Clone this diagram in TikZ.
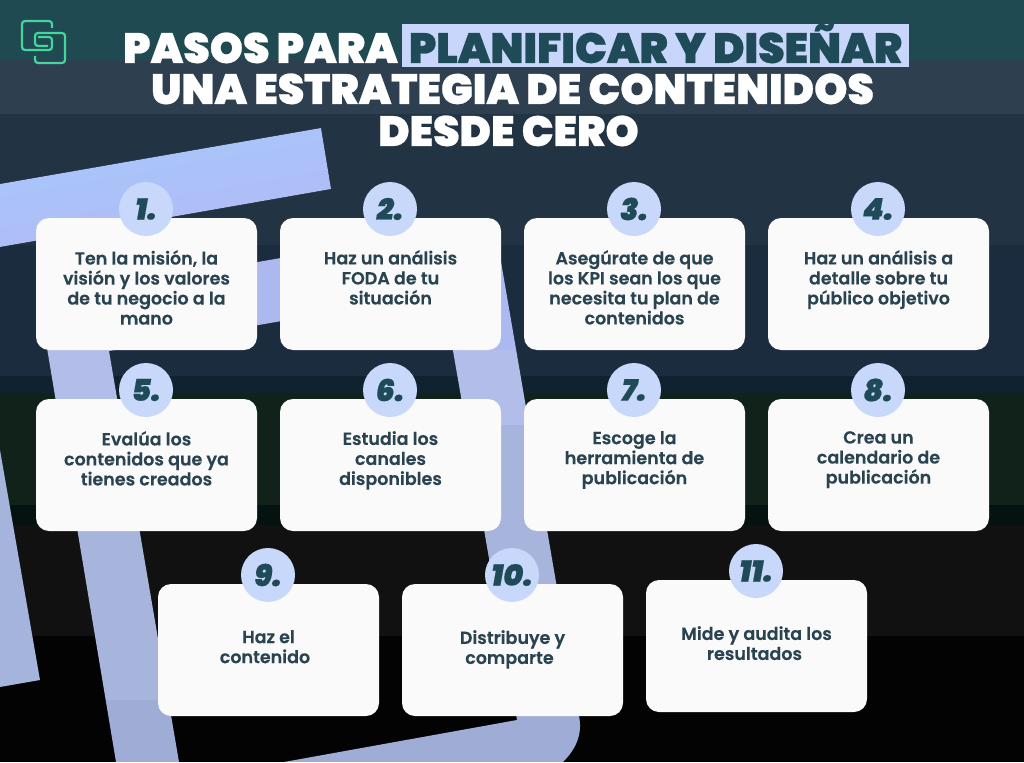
\documentclass[tikz,border=0pt]{standalone}
\usepackage{fontspec}
\setmainfont{Poppins}
\newfontfamily\titlefont[FakeBold=0.6]{Poppins Black}
\newfontfamily\cardfont[FakeBold=0.2]{Poppins SemiBold}
\newfontfamily\numfont[FakeBold=0.4]{Poppins Black Italic}
\definecolor{bandA}{HTML}{1F4A52}
\definecolor{bandB}{HTML}{2E4050}
\definecolor{bandC}{HTML}{223444}
\definecolor{bandD}{HTML}{1A2C3E}
\definecolor{bandE}{HTML}{0F2230}
\definecolor{bandF}{HTML}{11221B}
\definecolor{bandG}{HTML}{04130F}
\definecolor{bandH}{HTML}{111111}
\definecolor{bandI}{HTML}{030303}
\definecolor{inkc}{HTML}{2A4350}
\definecolor{teal}{HTML}{1F4A58}
\definecolor{hl}{HTML}{C8D6FB}
\definecolor{disc}{HTML}{C8D8FB}
\definecolor{cardc}{HTML}{FAFAFA}
\definecolor{logoc}{HTML}{45D6A0}
\definecolor{barA}{HTML}{A5C8FB}
\definecolor{barB}{HTML}{B4B9F5}
\definecolor{stripA}{HTML}{A5B4DC}
\tikzset{
  card/.style={fill=cardc,draw=none,rounded corners=13pt},
  numdisc/.style={circle,fill=disc,minimum size=54pt,inner sep=0pt,text=teal,font=\numfont\fontsize{30}{30}\selectfont},
  cardtext/.style={align=center,text=inkc,font=\cardfont\fontsize{17.5}{20}\selectfont,inner sep=0pt,anchor=north},
  titleline/.style={text=white,font=\titlefont\fontsize{42.3}{41}\selectfont,inner sep=0pt,anchor=base},
}
\begin{document}
\begin{tikzpicture}[x=1pt,y=-1pt]
\useasboundingbox (0,0) rectangle (1024,762);
% background bands
\foreach \a/\b/\c in {0/60/bandA,60/114/bandB,114/245/bandC,245/376/bandD,376/393/bandE,393/505/bandF,505/525/bandG,525/636/bandH,636/762/bandI}
  \fill[\c] (0,\a) rectangle (1024,\b);
% first frame
\fill[top color=barA,bottom color=barB,shading angle=10]
  (0,184) -- (321,128) -- (331,189) -- (0,247) -- cycle;
\fill[stripA] (0,450) -- (40,680) -- (0,687) -- cycle;
% second frame
\begin{scope}[even odd rule]
\clip (39,300) -- (494,221) -- (579,716) .. controls (583,735) and (575,750) .. (563,762) -- (116,762) -- cycle
  (109,351) -- (443,293) -- (517,720) -- (284,762) -- (179,762) -- cycle;
\foreach \a/\b/\c in {200/350/ACB8F0,350/425/B2BDEA,425/700/A7B5DD,700/762/9FADD6}{
  \definecolor{tmpc}{HTML}{\c}
  \fill[tmpc] (0,\a) rectangle (1024,\b);
}
\end{scope}
% logo
\draw[logoc,line width=2.2pt,rounded corners=3pt] (52,28) -- (52,21) -- (22,21) -- (22,50) -- (52,50) -- (52,37) -- (38,37);
\draw[logoc,line width=2.2pt,rounded corners=3pt] (35,56) -- (35,63) -- (65,63) -- (65,33) -- (35,33) -- (35,46) -- (48,46);
% title
\node[anchor=center,fill=hl,minimum width=507pt,minimum height=43pt,inner sep=0pt] (hlbox) at (655.5,45.5) {};
\node[titleline] (t1a) at (260.5,63) {PASOS PARA};
\node[titleline,text=teal] (t1b) at (655.5,63) {PLANIFICAR Y DISEÑAR};
\node[titleline] (t2) at (512.5,104) {UNA ESTRATEGIA DE CONTENIDOS};
\node[titleline] (t3) at (508.5,146) {DESDE CERO};
% cards
\foreach \n/\x/\y/\cx/\cy/\ty/\lbl/\txt in {
 a/36/218/146/209/32/1./{Ten la misión, la\\visión y los valores\\de tu negocio a la\\mano},
 b/280/218/390/209/32/2./{Haz un análisis\\FODA de tu\\situación},
 c/524/218/634/209/32/3./{Asegúrate de que\\los KPI sean los que\\necesita tu plan de\\contenidos},
 d/768/218/878/209/32/4./{Haz un análisis a\\detalle sobre tu\\público objetivo},
 e/36/399/146/390/32/5./{Evalúa los\\contenidos que ya\\tienes creados},
 f/280/399/390/390/32/6./{Estudia los\\canales\\disponibles},
 g/524/399/634/390/32/7./{Escoge la\\herramienta de\\publicación},
 h/768/399/878/390/32/8./{Crea un\\calendario de\\publicación},
 i/158/584/268/575/46/9./{Haz el\\contenido\hspace*{7pt}},
 j/402/584/512/575/46/10./{Distribuye y\\comparte\hspace*{6pt}},
 k/646/580/756/571/46/11./{Mide y audita los\\resultados\hspace*{4pt}}}{
  \fill[card] (\x,\y) rectangle ++(221,132);
  \node[numdisc] (disc\n) at (\cx,\cy) {\lbl};
  \node[cardtext] (txt\n) at (\x+110.5,\y+\ty) {\txt};
}
\end{tikzpicture}
\end{document}
